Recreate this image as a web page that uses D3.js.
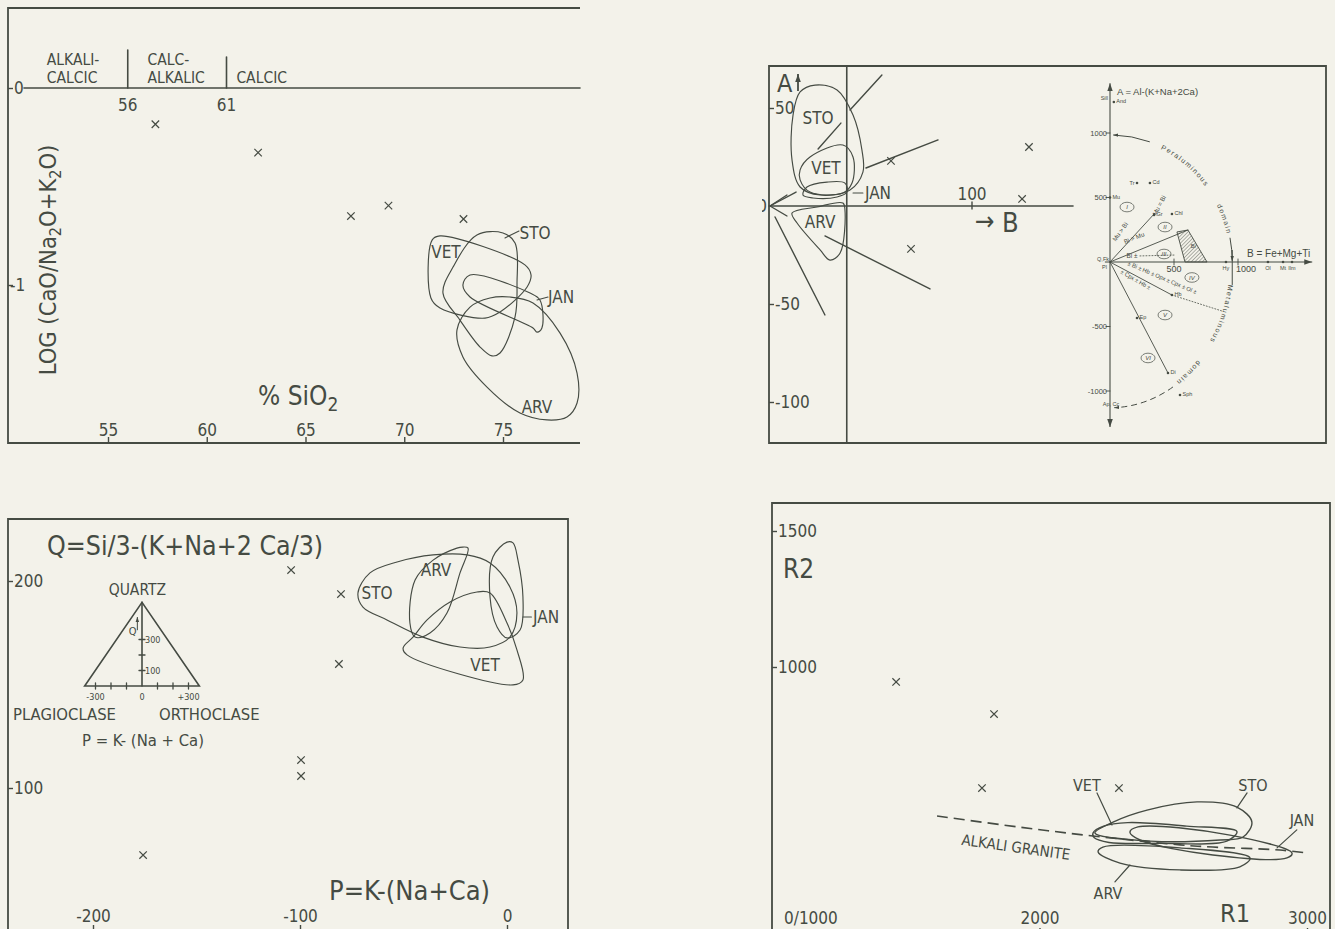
<!DOCTYPE html>
<html>
<head>
<meta charset="utf-8">
<title>Granitoid discrimination diagrams</title>
<script src="https://cdn.jsdelivr.net/npm/d3@7"></script>
<style>
  html, body { margin: 0; padding: 0; background: #f3f2ea; }
  svg { display: block; }
  text { font-family: "DejaVu Sans Condensed", "DejaVu Sans", sans-serif; fill: #454b43; }
  text.tiny { font-family: "Liberation Sans", "DejaVu Sans", sans-serif; }
</style>
</head>
<body>
<svg id="fig" width="1335" height="929"></svg>
<script>
// ================= data =================

// (a) Peacock diagram: LOG(CaO/Na2O+K2O) against % SiO2
const sio2Ticks = [55, 60, 65, 70, 75];
const logTicks = [0, -1];
const peacockBounds = [56, 61];
const peacockClasses = [["ALKALI-", "CALCIC"], ["CALC-", "ALKALIC"], ["CALCIC"]];
const peacockClassAt = [51.9, 57.0, 61.5];
const peacockSamples = [[57.4, -0.184], [62.6, -0.328], [67.3, -0.650], [69.2, -0.597], [73.0, -0.665]];
const peacockSTO = [[73.68, -0.746], [75.0, -0.736], [75.61, -0.787], [75.71, -0.99], [75.61, -1.162], [74.85, -1.345], [74.44, -1.36], [73.84, -1.315], [72.82, -1.178], [71.96, -1.041], [72.47, -0.909]];
const peacockVET = [[71.41, -0.772], [71.81, -0.751], [76.11, -0.898], [76.42, -0.949], [76.22, -1.010], [74.85, -1.137], [74.09, -1.168], [71.81, -1.117], [71.35, -1.066]];
const peacockJAN = [[72.97, -1.0], [73.33, -0.949], [76.37, -1.041], [76.87, -1.076], [76.97, -1.218], [76.72, -1.239], [76.52, -1.218], [73.33, -1.061]];
const peacockARV = [[75.35, -1.061], [76.52, -1.091], [77.89, -1.244], [78.75, -1.447], [78.75, -1.599], [78.24, -1.670], [77.23, -1.685], [75.86, -1.650], [74.19, -1.518], [72.97, -1.365], [72.67, -1.228], [73.33, -1.112], [74.34, -1.066]];
const peacockLabels = [["STO", 76.62, -0.736], ["VET", 72.11, -0.832], ["JAN", 77.94, -1.061], ["ARV", 76.72, -1.619]];
const peacockLeaders = [[75.10, -0.761, 75.81, -0.726], [76.72, -1.076, 77.28, -1.061]];

// (b) A-B diagram (Debon & Le Fort)
const abATicks = [50, -50, -100];
const abBTicks = [100];
const abRefB = 38;
const abSamples = [[128.2, 30.1], [59.9, 23.0], [124.8, 3.6], [69.8, -21.9]];
const abSTO = [[22.3, 61.7], [33.2, 59.2], [41.1, 46.4], [45.5, 28.6], [46.0, 17.3], [39.6, 8.2], [24.8, 5.6], [14.9, 9.7], [10.9, 23.5], [11.4, 46.4], [14.9, 58.2]];
const abVET = [[14.9, 18.4], [19.8, 25.0], [36.1, 31.1], [41.1, 25.0], [40.6, 11.7], [36.1, 6.6], [19.8, 7.1], [14.9, 13.3]];
const abJAN = [[18.3, 9.7], [28.2, 12.2], [37.1, 11.7], [38.1, 7.1], [33.2, 4.6], [21.3, 4.1], [16.3, 5.6]];
const abARV = [[10.9, -3.6], [23.3, -0.5], [36.1, 1.5], [37.1, -2.0], [34.7, -24.0], [29.7, -27.6], [24.8, -22.4], [13.4, -8.7]];
const abTieLines = [[39.6, 49.0, 55.4, 66.8], [23.8, 29.1, 35.1, 42.3], [47.5, 19.4, 83.2, 33.7], [27.2, -15.3, 79.2, -42.3], [2.5, -5.6, 27.2, -55.6], [0, 0, 8.4, 5.6], [0, 0, 12.9, 7.1], [0, 0, 8.4, -5.1]];
const abLabels = [["STO", 23.8, 44.9], ["VET", 27.7, 19.4], ["ARV", 24.8, -8.2]];
const abJanLabel = ["JAN", 47.0, 6.6];
const abJanLeader = [41.1, 6.6, 46.0, 6.6];

// (b) inset: the reference A-B grid
const insetATicks = [1000, 500, -500, -1000];
const insetBTicks = [500, 1000];
const insetMinerals = [["And", 30, 1240, "r"], ["Mu", 0, 500, "r"], ["Tr", 211, 612, "l"], ["Cd", 312, 612, "r"], ["Gr", 344, 364, "r"], ["Chl", 484, 372, "r"], ["Hy", 906, 0, "b"], ["Ol", 1234, 0, "b"], ["Mt", 1352, 0, "b"], ["Ilm", 1422, 0, "b"], ["Hb", 484, -256, "r"], ["Ep", 211, -434, "r"], ["Di", 453, -860, "r"], ["Sph", 547, -1031, "r"]];
const insetFan = [[352, 380], [609, 248], [484, -256], [453, -860]];
const insetDotted = [[484, -256, 875, -380], [234, 47, 508, 54]];
const insetBiField = [[523, 233], [609, 248], [758, 0], [586, 0]];
const insetNotes = [["Mu = Bi", 400, 430, -62], ["Mu > Bi", 94, 225, -55], ["Bi > Mu", 195, 171, -22], ["Bi ±", 172, 31, 0]];
const insetRunning = [["± Bi ± Hb ± Opx ± Cpx ± Ol ±", 133, -23, 23], ["± Cpx ± Hb ±", 78, -85, 30]];
const insetSectors = [["I", 133, 426], ["II", 430, 271], ["III", 422, 62], ["IV", 640, -120], ["V", 430, -411], ["VI", 297, -744]];
const periArc = { rB: 955, rA: 985 };
const metaArc = { rB: 955, rA: 1130 };
// words written along the domain arcs: [word, from angle, to angle] (degrees)
const periWords = [["Peraluminous", 65, 32], ["domain", 27, 13]];
const metaWords = [["Metaluminous", -9, -39], ["domain", -43, -57]];

// (c) Q-P diagram
const pTicks = [-200, -100, 0];
const qTicks = [200, 100];
const pqSamples = [[-104.3, 205.3], [-80.2, 193.7], [-81.2, 159.9], [-99.5, 113.5], [-99.5, 105.8], [-175.8, 67.6]];
const pqSTO = [[-72.0, 194.2], [-66.2, 203.9], [-53.1, 209.2], [-35.7, 212.6], [-19.3, 212.6], [-8.2, 208.7], [1.4, 197.1], [4.8, 184.5], [1.4, 172.9], [-8.2, 168.1], [-22.7, 168.1], [-40.6, 172.9], [-58.0, 181.2], [-69.6, 187.4]];
const pqARV = [[-21.3, 216.4], [-18.8, 215.9], [-22.7, 203.9], [-29.0, 184.5], [-37.2, 174.9], [-44.4, 172.9], [-46.9, 179.7], [-44.4, 200.5], [-35.7, 210.1], [-24.2, 215.9]];
const pqVET = [[-45.4, 172.9], [-50.2, 167.6], [-48.3, 164.3], [2.9, 149.8], [7.7, 152.2], [4.8, 166.7], [0, 179.7], [-8.2, 194.2], [-14.5, 194.7], [-27.5, 189.9], [-38.6, 181.2]];
const pqJAN = [[0, 218.8], [-6.8, 211.6], [-8.2, 192.3], [-4.8, 177.8], [0, 172.5], [6.3, 176.3], [7.7, 192.3], [5.3, 210.1], [2.9, 218.4]];
const pqLabels = [["STO", -62.8, 194.2], ["ARV", -34.3, 205.3], ["VET", -10.6, 159.4]];
const pqJanLabel = ["JAN", 12.6, 182.6];
const pqJanLeader = [7.7, 182.6, 11.8, 182.6];
// (c) inset triangle Quartz / Plagioclase / Orthoclase
const triCorners = [[-370, 0], [370, 0], [0, 540]];
const triBaseTicks = [-300, -200, -100, 100, 200, 300];
const triBaseLabels = [[-300, "-300"], [0, "0"], [300, "+300"]];
const triQTicks = [100, 200, 300];
const triQLabels = [[300, "300"], [100, "100"]];

// (d) R1-R2 diagram
const r1Ticks = [2000, 3000];
const r2Ticks = [1500, 1000];
const r1r2Samples = [[1464, 945], [1830, 827], [1785, 555], [2297, 555]];
const r1r2STO = [[2207, 390], [2275, 430], [2402, 474], [2589, 504], [2738, 485], [2794, 430], [2761, 375], [2675, 364], [2413, 360]];
const r1r2VET = [[2200, 390], [2240, 415], [2330, 428], [2550, 415], [2738, 395], [2700, 360], [2450, 352], [2260, 355], [2205, 372]];
const r1r2JAN = [[2338, 393], [2368, 412], [2712, 382], [2944, 316], [2925, 298], [2648, 309], [2376, 364]];
const r1r2ARV = [[2219, 320], [2237, 338], [2525, 335], [2787, 298], [2749, 265], [2525, 254], [2301, 279]];
const alkaliGranite = [[1617, 452], [1920, 412], [2170, 382], [2525, 346], [2648, 338], [2899, 327], [2999, 316]];
const r1r2Labels = [["VET", 2177, 566], ["STO", 2798, 566], ["JAN", 2981, 437], ["ARV", 2256, 169]];
const r1r2Leaders = [[2215, 537, 2271, 419], [2776, 537, 2738, 482], [2962, 401, 2888, 335], [2338, 272, 2282, 210]];

// ================= drawing helpers =================
const ink = "#454b43";
const svg = d3.select("#fig");
svg.append("rect").attr("width", 1335).attr("height", 929).attr("fill", "#f3f2ea");
const defs = svg.append("defs");

function arrowMarker(id, size) {
  defs.append("marker").attr("id", id).attr("viewBox", "0 0 10 10")
    .attr("refX", 10).attr("refY", 5).attr("markerWidth", size).attr("markerHeight", size)
    .attr("markerUnits", "userSpaceOnUse").attr("orient", "auto-start-reverse")
    .append("path").attr("d", "M0,1.5L10,5L0,8.5Z").attr("fill", ink);
}
arrowMarker("tip8", 8);
arrowMarker("tip5", 5);

defs.append("pattern").attr("id", "hatch").attr("width", 2.6).attr("height", 2.6)
  .attr("patternUnits", "userSpaceOnUse").attr("patternTransform", "rotate(45)")
  .append("line").attr("x1", 0).attr("y1", 0).attr("x2", 0).attr("y2", 2.6)
  .attr("stroke", ink).attr("stroke-width", 0.8);

defs.append("clipPath").attr("id", "clipB").append("rect")
  .attr("x", 762).attr("y", 0).attr("width", 600).attr("height", 929);

function seg(g, x1, y1, x2, y2, w = 1.5, dash = null) {
  return g.append("line").attr("x1", x1).attr("y1", y1).attr("x2", x2).attr("y2", y2)
    .attr("stroke", ink).attr("stroke-width", w).attr("stroke-dasharray", dash)
    .attr("stroke-linecap", "round");
}
function txt(g, s, x, y, size, anchor = "middle") {
  return g.append("text").attr("x", x).attr("y", y).attr("font-size", size)
    .attr("text-anchor", anchor).text(s);
}
function frame(g, d) {
  g.append("path").attr("d", d).attr("fill", "none").attr("stroke", ink).attr("stroke-width", 1.8);
}
function crosses(g, pts, x, y) {
  g.selectAll(null).data(pts).join("path")
    .attr("transform", d => `translate(${x(d[0])},${y(d[1])})`)
    .attr("d", d3.symbol(d3.symbolX, 38)())
    .attr("fill", "none").attr("stroke", ink).attr("stroke-width", 1.2);
}
function fields(g, list, x, y, w = 1.15) {
  const loop = d3.line().x(d => x(d[0])).y(d => y(d[1])).curve(d3.curveCatmullRomClosed.alpha(0.5));
  list.forEach(pts => g.append("path").attr("d", loop(pts))
    .attr("fill", "none").attr("stroke", ink).attr("stroke-width", w));
}
function names(g, list, x, y, size) {
  g.selectAll(null).data(list).join("text")
    .attr("x", d => x(d[1])).attr("y", d => y(d[2])).attr("dy", "0.36em")
    .attr("font-size", size).attr("text-anchor", "middle").text(d => d[0]);
}
function leaders(g, list, x, y, w = 1.1) {
  list.forEach(l => seg(g, x(l[0]), y(l[1]), x(l[2]), y(l[3]), w));
}
function styleAxis(a, size) {
  a.attr("font-family", null).attr("font-size", null);
  a.select(".domain").remove();
  a.selectAll("line").attr("stroke", ink).attr("stroke-width", 1.4);
  a.selectAll("text").attr("fill", ink).attr("font-size", size);
  return a;
}
function leftTicks(g, scale, values, x0, size = 17, len = 5) {
  const ax = d3.axisRight(scale).tickValues(values).tickSize(len).tickPadding(1).tickFormat(d => String(d));
  return styleAxis(g.append("g").attr("transform", `translate(${x0},0)`).call(ax), size);
}
function bottomTicks(g, scale, values, y0, labelY, size = 17, len = 6) {
  const ax = d3.axisBottom(scale).tickValues(values).tickSize(-len).tickFormat(d => String(d));
  const a = styleAxis(g.append("g").attr("transform", `translate(0,${y0})`).call(ax), size);
  a.selectAll("text").attr("y", labelY - y0).attr("dy", null);
  return a;
}

// ================= (a) Peacock diagram =================
{
  const g = svg.append("g");
  const x = d3.scaleLinear().domain([55, 75]).range([108, 503]);
  const y = d3.scaleLinear().domain([0, -1]).range([88, 285]);
  frame(g, "M580,8H8V443H580");

  bottomTicks(g, x, sio2Ticks, 443, 436, 17, 6);
  const la = leftTicks(g, y, logTicks, 8, 17, 5);
  la.selectAll("text").filter(d => d < 0).attr("x", 2);

  // alkali-lime reference line and class boundaries
  seg(g, 24, y(0), 580, y(0), 1.6);
  peacockBounds.forEach((v, i) => {
    seg(g, x(v), i === 0 ? 50 : 57, x(v), y(0), 1.6);
    txt(g, String(v), x(v), 111, 17);
  });
  peacockClasses.forEach((lines, i) => {
    lines.forEach((s, j) =>
      txt(g, s, x(peacockClassAt[i]), lines.length === 2 ? 64.5 + j * 18 : 82.5, 15.5, "start"));
  });

  fields(g, [peacockSTO, peacockVET, peacockJAN, peacockARV], x, y);
  names(g, peacockLabels, x, y, 17);
  leaders(g, peacockLeaders, x, y);
  crosses(g, peacockSamples, x, y);

  // axis titles
  const yt = g.append("text").attr("transform", "translate(56,260) rotate(-90)")
    .attr("text-anchor", "middle").attr("font-size", 23.5);
  yt.append("tspan").text("LOG (CaO/Na");
  yt.append("tspan").attr("dy", 5).attr("font-size", 16).text("2");
  yt.append("tspan").attr("dy", -5).text("O+K");
  yt.append("tspan").attr("dy", 5).attr("font-size", 16).text("2");
  yt.append("tspan").attr("dy", -5).text("O)");

  const xt = g.append("text").attr("x", 258).attr("y", 405).attr("font-size", 26);
  xt.append("tspan").text("% SiO");
  xt.append("tspan").attr("dy", 6).attr("font-size", 19).text("2");
}

// ================= (b) A-B diagram =================
{
  const g = svg.append("g").attr("clip-path", "url(#clipB)");
  const x = d3.scaleLinear().domain([0, 100]).range([770, 972]);
  const y = d3.scaleLinear().domain([0, 50]).range([206, 108]);
  frame(g, "M769,66H1326V443H769Z");
  seg(g, x(abRefB), 66, x(abRefB), 443, 1.6);

  leftTicks(g, y, abATicks, 769, 17, 5);
  txt(g, "0", 767, y(0) + 6, 17, "end");
  seg(g, 769, y(0), x(150), y(0), 1.6);
  abBTicks.forEach(v => {
    seg(g, x(v), y(0) - 4, x(v), y(0) + 3, 1.4);
    txt(g, String(v), x(v), 200, 17);
  });
  // axis names: A with an upward arrow, B with a rightward arrow
  txt(g, "A", 777, 92, 25, "start");
  g.append("line").attr("x1", 798).attr("y1", 91).attr("x2", 798).attr("y2", 74)
    .attr("stroke", ink).attr("stroke-width", 1.8).attr("marker-end", "url(#tip8)");
  txt(g, "→", 975, 230, 26, "start");
  txt(g, "B", 1002, 232, 27, "start");

  fields(g, [abSTO, abVET, abJAN, abARV], x, y);
  abTieLines.forEach(l => seg(g, x(l[0]), y(l[1]), x(l[2]), y(l[3]), 1.4));
  names(g, abLabels, x, y, 17);
  seg(g, x(abJanLeader[0]), y(abJanLeader[1]), x(abJanLeader[2]), y(abJanLeader[3]), 1.1);
  txt(g, abJanLabel[0], x(abJanLabel[1]), y(abJanLabel[2]), 17, "start").attr("dy", "0.36em");
  crosses(g, abSamples, x, y);
}

// ================= (b) inset: reference grid =================
{
  const g = svg.append("g");
  const iB = d3.scaleLinear().domain([0, 1000]).range([1110, 1238]);
  const iA = d3.scaleLinear().domain([0, 1000]).range([262, 133]);
  const T = (s, xx, yy, size, anchor = "start") =>
    g.append("text").attr("class", "tiny").attr("x", xx).attr("y", yy)
      .attr("font-size", size).attr("text-anchor", anchor).text(s);

  // axes
  g.append("line").attr("x1", iB(0)).attr("x2", iB(0)).attr("y1", iA(-1280)).attr("y2", iA(1385))
    .attr("stroke", ink).attr("stroke-width", 1.1)
    .attr("marker-start", "url(#tip8)").attr("marker-end", "url(#tip8)");
  g.append("line").attr("x1", iB(-40)).attr("x2", iB(1580)).attr("y1", iA(0)).attr("y2", iA(0))
    .attr("stroke", ink).attr("stroke-width", 1.1).attr("marker-end", "url(#tip8)");
  insetATicks.forEach(v => {
    seg(g, iB(0) - 4, iA(v), iB(0), iA(v), 0.9);
    T(String(v), iB(0) - 3, iA(v) + 2.5, 7.5, "end");
  });
  insetBTicks.forEach(v => {
    seg(g, iB(v), iA(0) - 3, iB(v), iA(0) + 3, 0.9);
    T(String(v), iB(v) + (v === 1000 ? 8 : 0), iA(0) + 10, 9, "middle");
  });
  T("A = Al-(K+Na+2Ca)", iB(0) + 7, iA(1295), 9.5);
  T("B = Fe+Mg+Ti", iB(1070), iA(40), 10);
  T("Sill", iB(0) - 2, iA(1270) + 2, 5.5, "end");
  T("Q,Fk", iB(0) - 1, iA(0) - 1.5, 5.5, "end");
  T("Pl", iB(0) - 3, iA(0) + 6.5, 5.5, "end");
  T("Ap, Cc", iB(0) + 1, iA(-1115), 5.5, "middle");

  // tie lines from the origin
  insetFan.forEach(p => seg(g, iB(0), iA(0), iB(p[0]), iA(p[1]), 0.9));
  insetDotted.forEach(l => seg(g, iB(l[0]), iA(l[1]), iB(l[2]), iA(l[3]), 0.8, "1,2"));
  g.append("path")
    .attr("d", d3.line().x(d => iB(d[0])).y(d => iA(d[1]))(insetBiField) + "Z")
    .attr("fill", "url(#hatch)").attr("stroke", ink).attr("stroke-width", 0.9);
  T("Bi", iB(650), iA(110), 5.5, "middle");

  // mineral points
  insetMinerals.forEach(([n, b, a, side]) => {
    g.append("circle").attr("cx", iB(b)).attr("cy", iA(a)).attr("r", 1.3).attr("fill", ink);
    if (side === "r") T(n, iB(b) + 2.5, iA(a) + 1, 5.5, "start");
    else if (side === "l") T(n, iB(b) - 2.5, iA(a) + 1.5, 5.5, "end");
    else T(n, iB(b), iA(a) + 7.5, 5.5, "middle");
  });

  insetNotes.forEach(([s, b, a, r]) =>
    T(s, 0, 0, 6.3, "middle").attr("transform", `translate(${iB(b)},${iA(a)}) rotate(${r})`));
  insetRunning.forEach(([s, b, a, r]) =>
    T(s, 0, 0, 5.8, "start").attr("transform", `translate(${iB(b)},${iA(a)}) rotate(${r})`));
  insetSectors.forEach(([s, b, a]) => {
    g.append("ellipse").attr("cx", iB(b)).attr("cy", iA(a)).attr("rx", 7).attr("ry", 4.8)
      .attr("fill", "none").attr("stroke", ink).attr("stroke-width", 0.7);
    T(s, iB(b), iA(a) + 2.2, 6, "middle").attr("font-style", "italic");
  });

  // domain arcs
  const ell = (r, t0, t1, sweep) => {
    const cx = iB(0), cy = iA(0), rx = iB(r.rB) - cx, ry = cy - iA(r.rA);
    const p = t => [cx + rx * Math.cos(t * Math.PI / 180), cy - ry * Math.sin(t * Math.PI / 180)];
    const [x0, y0] = p(t0), [x1, y1] = p(t1);
    return `M${x0},${y0}A${rx},${ry} 0 0 ${sweep} ${x1},${y1}`;
  };
  const arc = (d, dash) => g.append("path").attr("d", d).attr("fill", "none")
    .attr("stroke", ink).attr("stroke-width", 1).attr("stroke-dasharray", dash);
  arc(ell(periArc, 71, 88.5, 0)).attr("marker-end", "url(#tip5)");
  arc(ell(periArc, 11, 0.5, 1)).attr("marker-end", "url(#tip5)");
  seg(g, iB(955), iA(90), iB(955), iA(-175), 1);
  arc(ell(metaArc, -59, -88, 1), "6,4").attr("marker-end", "url(#tip5)");
  [[periArc, periWords, "peri"], [metaArc, metaWords, "meta"]].forEach(([r, words, key]) =>
    words.forEach(([w, t0, t1], i) => {
      const id = `${key}Word${i}`;
      defs.append("path").attr("id", id).attr("d", ell(r, t0, t1, 1));
      g.append("text").attr("class", "tiny").attr("font-size", 7).attr("letter-spacing", 1.5)
        .attr("dy", "0.35em").append("textPath").attr("href", "#" + id).text(w);
    }));
}

// ================= (c) Q-P diagram =================
{
  const g = svg.append("g");
  const x = d3.scaleLinear().domain([-200, 0]).range([93, 507]);
  const y = d3.scaleLinear().domain([100, 200]).range([788, 581]);
  frame(g, "M8,940V519H568V940");
  leftTicks(g, y, qTicks, 8, 17, 5);
  bottomTicks(g, x, pTicks, 933, 922, 17, 8);

  fields(g, [pqSTO, pqARV, pqVET, pqJAN], x, y);
  names(g, pqLabels, x, y, 17);
  seg(g, x(pqJanLeader[0]), y(pqJanLeader[1]), x(pqJanLeader[2]), y(pqJanLeader[3]), 1.1);
  txt(g, pqJanLabel[0], x(pqJanLabel[1]), y(pqJanLabel[2]), 17, "start").attr("dy", "0.36em");
  crosses(g, pqSamples, x, y);

  txt(g, "Q=Si/3-(K+Na+2 Ca/3)", 47, 555, 26.5, "start");
  txt(g, "P=K-(Na+Ca)", 329, 900, 27, "start");

  // small triangle key
  const tp = d3.scaleLinear().domain([0, 100]).range([142, 157.5]);
  const tq = d3.scaleLinear().domain([0, 100]).range([686, 670.5]);
  g.append("path").attr("d", d3.line().x(d => tp(d[0])).y(d => tq(d[1]))(triCorners) + "Z")
    .attr("fill", "none").attr("stroke", ink).attr("stroke-width", 1.6);
  seg(g, tp(0), tq(0), tp(0), tq(540), 1.6);
  triBaseTicks.forEach(v => seg(g, tp(v), tq(0) - 3, tp(v), tq(0) + 3, 1.3));
  triQTicks.forEach(v => seg(g, tp(0) - 3, tq(v), tp(0) + 3, tq(v), 1.3));
  triBaseLabels.forEach(([v, s]) => txt(g, s, tp(v), tq(0) + 14, 9));
  triQLabels.forEach(([v, s]) => txt(g, s, tp(0) + 3, tq(v) + 3.5, 9, "start"));
  txt(g, "Q", tp(-60), tq(330), 11);
  g.append("line").attr("x1", tp(-30)).attr("y1", tq(360)).attr("x2", tp(-30)).attr("y2", tq(445))
    .attr("stroke", ink).attr("stroke-width", 1).attr("marker-end", "url(#tip5)");
  txt(g, "QUARTZ", tp(-30), 595, 15.5);
  txt(g, "PLAGIOCLASE", 13, 720, 16.5, "start");
  txt(g, "ORTHOCLASE", 159, 720, 16.5, "start");
  txt(g, "P = K- (Na + Ca)", 143, 746, 16.5);
}

// ================= (d) R1-R2 diagram =================
{
  const g = svg.append("g");
  const x = d3.scaleLinear().domain([1000, 3000]).range([772, 1307]);
  const y = d3.scaleLinear().domain([1000, 1500]).range([667, 531]);
  frame(g, "M772,940V503H1330V940");
  leftTicks(g, y, r2Ticks, 772, 17, 5);
  bottomTicks(g, x, r1Ticks, 936, 924, 17, 8);
  txt(g, "0/1000", 784, 924, 17, "start");
  txt(g, "R2", 783, 578, 26, "start");
  txt(g, "R1", 1220, 922, 25, "start");

  g.append("path").attr("d", d3.line().x(d => x(d[0])).y(d => y(d[1])).curve(d3.curveCatmullRom)(alkaliGranite))
    .attr("fill", "none").attr("stroke", ink).attr("stroke-width", 1.6).attr("stroke-dasharray", "11,6");
  fields(g, [r1r2STO, r1r2VET, r1r2JAN, r1r2ARV], x, y, 1.4);
  names(g, r1r2Labels, x, y, 16);
  leaders(g, r1r2Leaders, x, y, 1.2);
  txt(g, "ALKALI GRANITE", 0, 0, 15).attr("dy", "0.36em")
    .attr("transform", `translate(${x(1912)},${y(338)}) rotate(8)`);
  crosses(g, r1r2Samples, x, y);
}
</script>
</body>
</html>
